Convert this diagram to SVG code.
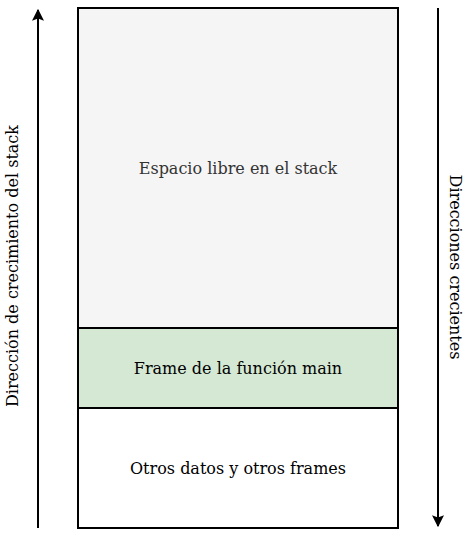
<svg xmlns="http://www.w3.org/2000/svg" width="469" height="537" viewBox="0 0 469 537">
<style>
text{font-family:"DejaVu Serif",serif;font-size:16px;fill:#000;text-anchor:middle;dominant-baseline:central}
.box{stroke:#000;stroke-width:2}
.conn{stroke:#000;stroke-width:2;fill:none}
</style>
<defs>
<marker id="ah" viewBox="0 0 10 10" refX="9" refY="5" markerWidth="6" markerHeight="6" orient="auto" markerUnits="strokeWidth">
<path d="M0,0 L10,5 L0,10 L2,5 Z" fill="#000"/>
</marker>
</defs>
<g id="free">
<rect class="box" x="78" y="8" width="320" height="320" fill="#f5f5f5"/>
<text x="238" y="168" style="fill:#333">Espacio libre en el stack</text>
</g>
<g id="main">
<rect class="box" x="78" y="328" width="320" height="80" fill="#d5e8d4"/>
<text x="238" y="368">Frame de la función main</text>
</g>
<g id="others">
<rect class="box" x="78" y="408" width="320" height="120" fill="#fff"/>
<text x="238" y="468">Otros datos y otros frames</text>
</g>
<g id="connectors">
<line class="conn" x1="38" y1="528" x2="38" y2="10" marker-end="url(#ah)"/>
<line class="conn" x1="438" y1="8" x2="438" y2="526" marker-end="url(#ah)"/>
</g>
<g id="labels">
<text transform="translate(12,266) rotate(-90)">Dirección de crecimiento del stack</text>
<text transform="translate(455,267) rotate(90)">Direcciones crecientes</text>
</g>
</svg>
